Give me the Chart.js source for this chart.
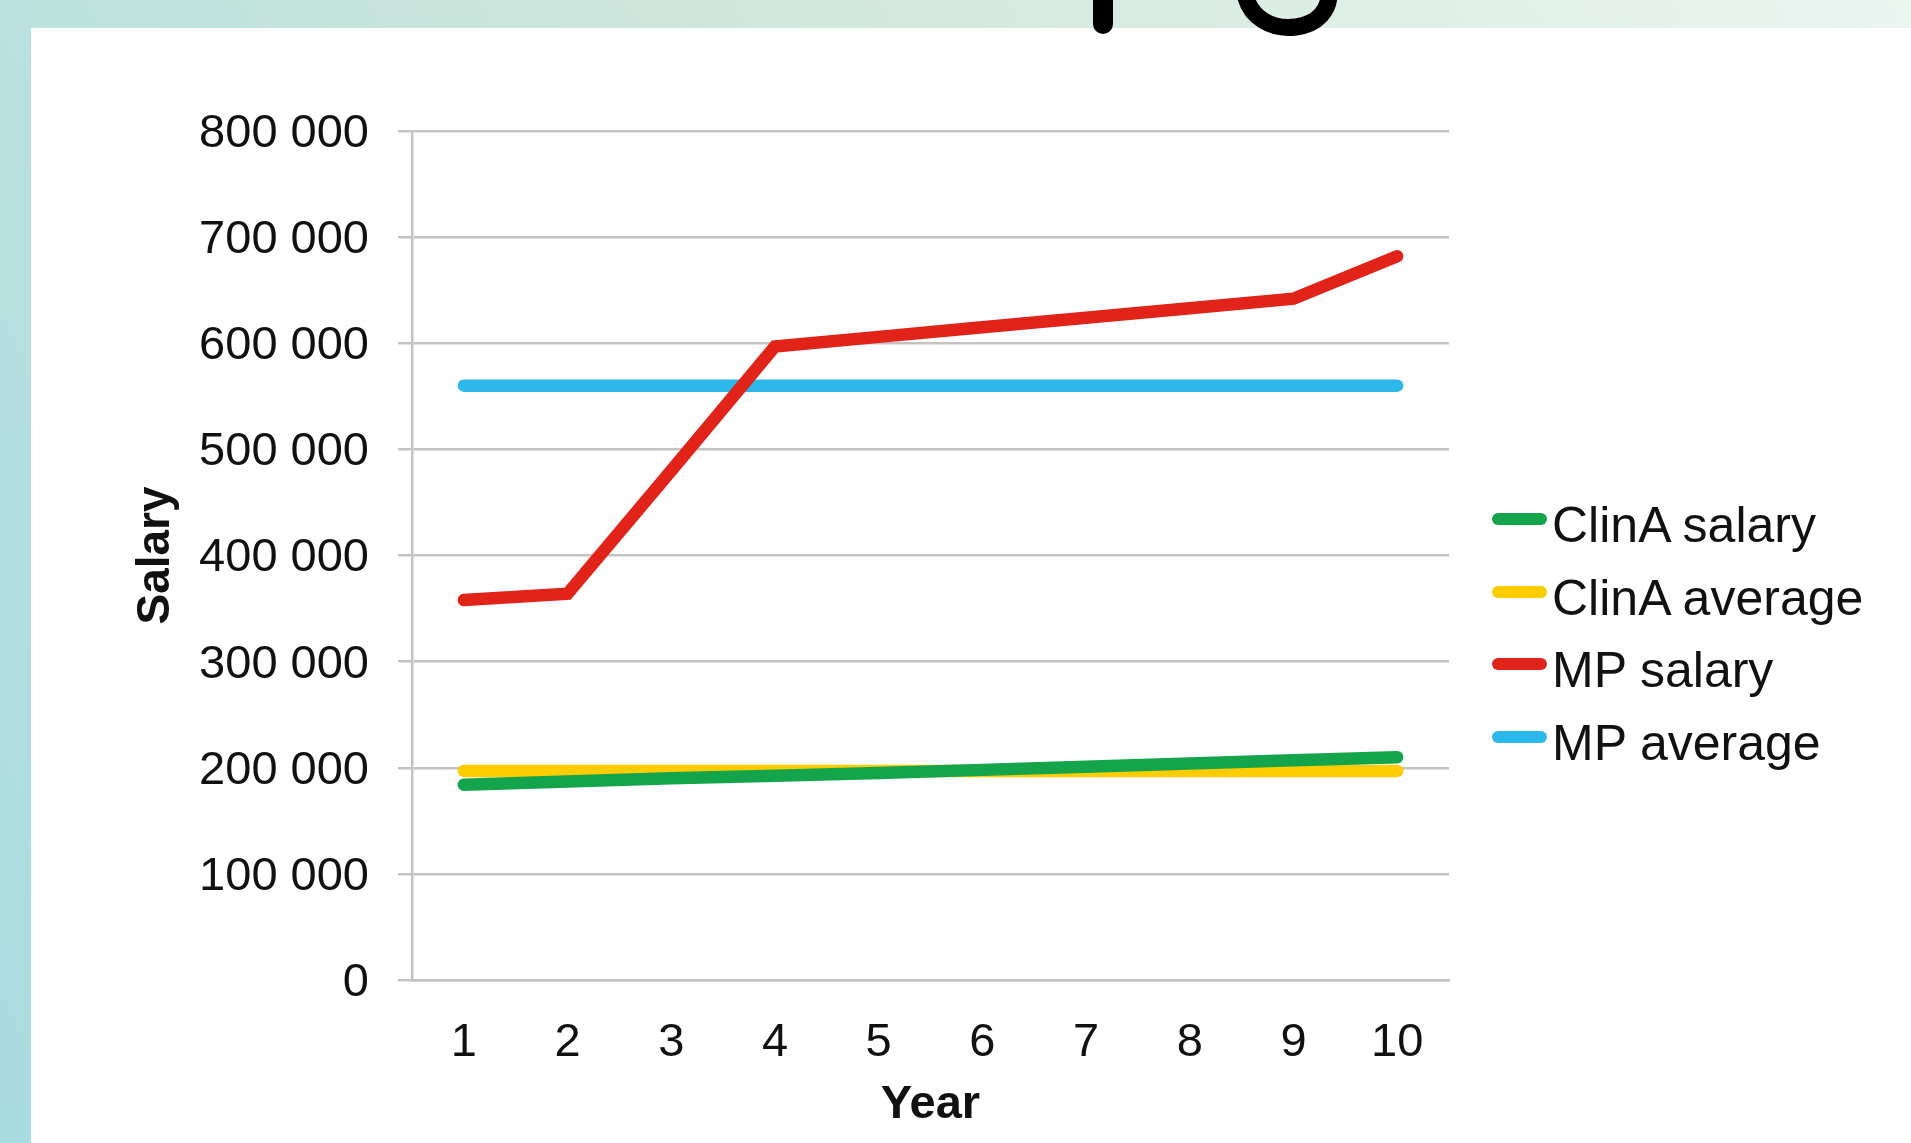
<!DOCTYPE html>
<html lang="en">
<head>
    <meta charset="UTF-8">
    <title>Salary per year</title>
    <script src="https://cdn.jsdelivr.net/npm/chart.js@4.4.1/dist/chart.umd.min.js"></script>
    <style>
        html, body { margin: 0; padding: 0; width: 1911px; height: 1143px; overflow: hidden; }
        body { background: linear-gradient(60deg, #a8dbe1 0%, #c6e4dc 40%, #d3e9dd 60%, #eaf5f0 100%); position: relative; font-family: "Liberation Sans", Arial, sans-serif; }
        #panel { position: absolute; left: 31px; top: 28px; right: 0; bottom: 0; background: #fff; }
        .chart-container { position: absolute; left: 0; top: 0; width: 1911px; height: 1143px; }
        #legend { position: absolute; left: 1492px; top: 483px; }
        #legend .item { display: flex; align-items: center; height: 72.6px; }
        #legend .swatch { width: 55px; height: 12px; border-radius: 6px; margin-right: 5px; }
        #legend .label { font-size: 50px; line-height: 1; color: #111; position: relative; top: 6px; white-space: nowrap; }
        #scribble { position: absolute; left: 0; top: 0; }
    </style>
</head>
<body>
    <div id="panel"></div>
    <div class="chart-container">
        <canvas id="salaryChart"></canvas>
    </div>
    <div id="legend"></div>
    <svg id="scribble" width="1911" height="60">
        <path d="M1103 -6 L1103 24" stroke="#000" stroke-width="20" stroke-linecap="round" fill="none"/>
        <path d="M1245 -6 C1250 18, 1272 30, 1296 27 C1318 24, 1329 10, 1329 -6" stroke="#000" stroke-width="17" stroke-linecap="round" fill="none"/>
    </svg>

    <script>
        const years = ['1', '2', '3', '4', '5', '6', '7', '8', '9', '10'];
        const clinaSalary = [184000, 187000, 190000, 192500, 195000, 198000, 201000, 204000, 207000, 210000];
        const clinaAverage = [197000, 197000, 197000, 197000, 197000, 197000, 197000, 197000, 197000, 197000];
        const mpSalary = [358000, 364000, 480000, 597000, 606000, 615000, 624000, 633000, 642000, 682000];
        const mpAverage = [560000, 560000, 560000, 560000, 560000, 560000, 560000, 560000, 560000, 560000];

        const seriesNames = ['ClinA salary', 'ClinA average', 'MP salary', 'MP average'];
        const seriesColors = ['#14a54c', '#ffcc00', '#e2231a', '#2cb8ea'];
        const seriesData = [clinaSalary, clinaAverage, mpSalary, mpAverage];

        const gridColor = '#c6c2c2';
        const textColor = '#111111';
        const fontFamily = '"Liberation Sans", Arial, sans-serif';

        function formatThousands(v) {
            return String(v).replace(/\B(?=(\d{3})+(?!\d))/g, ' ');
        }

        const datasets = seriesNames.map((name, i) => ({
            label: name,
            data: seriesData[i],
            borderColor: seriesColors[i],
            backgroundColor: seriesColors[i],
            borderWidth: 12.5,
            borderCapStyle: 'round',
            borderJoinStyle: 'miter',
            pointRadius: 0,
            pointHoverRadius: 0,
            tension: 0,
            fill: false
        }));

        const ctx = document.getElementById('salaryChart').getContext('2d');
        const salaryChart = new Chart(ctx, {
            type: 'line',
            data: { labels: years, datasets: datasets },
            options: {
                responsive: true,
                maintainAspectRatio: false,
                animation: false,
                devicePixelRatio: 1,
                layout: { padding: { left: 0, top: 131, right: 462, bottom: 0 } },
                plugins: {
                    legend: { display: false },
                    tooltip: { enabled: false }
                },
                scales: {
                    x: {
                        offset: true,
                        grid: { display: false, drawTicks: false, tickLength: 0 },
                        border: { display: true, color: gridColor, width: 2.5 },
                        ticks: {
                            color: textColor,
                            padding: 35,
                            maxRotation: 0,
                            font: { family: fontFamily, size: 47 }
                        },
                        title: {
                            display: true,
                            text: 'Year',
                            color: textColor,
                            padding: { top: 0, bottom: 10 },
                            font: { family: fontFamily, size: 47, weight: 'bold' }
                        },
                        afterFit: function(scale) { scale.height = 163; }
                    },
                    y: {
                        min: 0,
                        max: 800000,
                        grid: { color: gridColor, lineWidth: 2.5, drawTicks: true, tickLength: 14 },
                        border: { display: true, color: gridColor, width: 2.5 },
                        ticks: {
                            stepSize: 100000,
                            color: textColor,
                            padding: 29,
                            labelOffset: 3,
                            font: { family: fontFamily, size: 47 },
                            callback: function(value) { return formatThousands(value); }
                        },
                        title: {
                            display: true,
                            text: 'Salary',
                            color: textColor,
                            padding: { top: 129, bottom: 0 },
                            font: { family: fontFamily, size: 46, weight: 'bold' }
                        },
                        afterFit: function(scale) { scale.width = 412; }
                    }
                }
            }
        });

        // legend in html, built from the datasets
        const legendBox = document.getElementById('legend');
        salaryChart.data.datasets.forEach(ds => {
            const item = document.createElement('div');
            item.className = 'item';
            const sw = document.createElement('span');
            sw.className = 'swatch';
            sw.style.background = ds.borderColor;
            const lb = document.createElement('span');
            lb.className = 'label';
            lb.textContent = ds.label;
            item.appendChild(sw);
            item.appendChild(lb);
            legendBox.appendChild(item);
        });
    </script>
</body>
</html>
